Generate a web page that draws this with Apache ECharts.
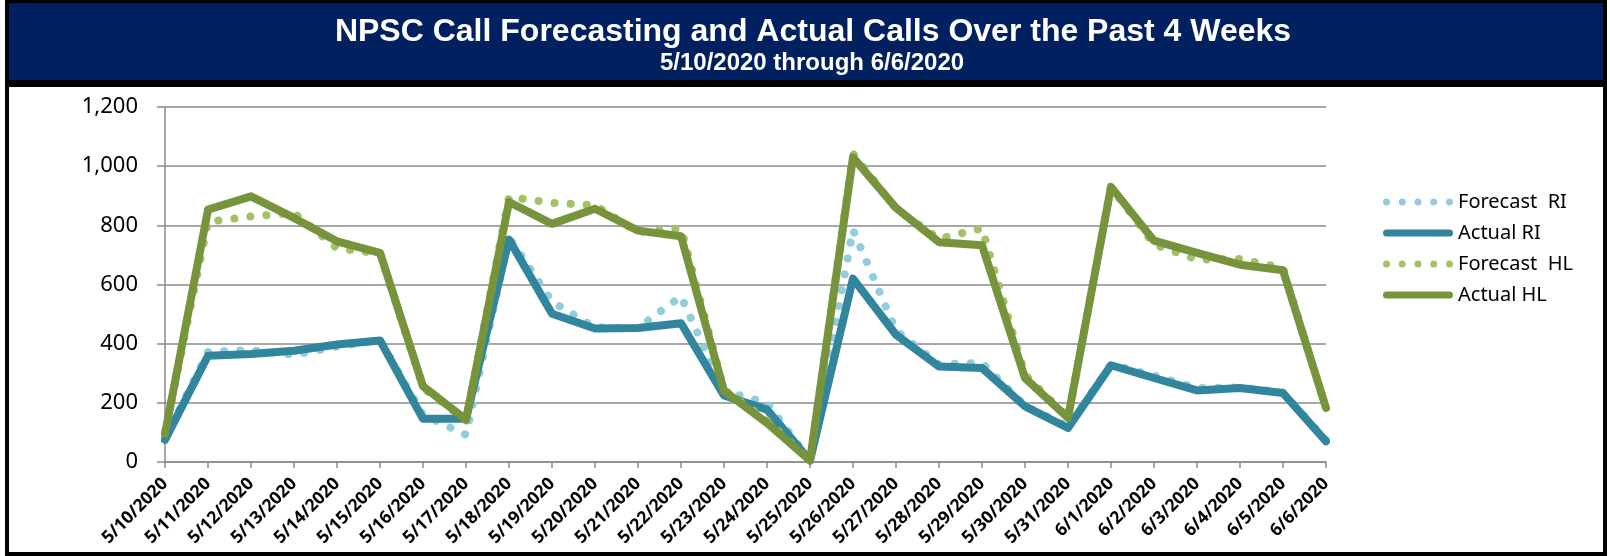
<!DOCTYPE html>
<html>
<head>
<meta charset="utf-8">
<script src="https://cdn.jsdelivr.net/npm/echarts@6/dist/echarts.min.js"></script>
<style>
  html, body { margin: 0; padding: 0; background: #fff; }
  #chart { width: 1610px; height: 556px; }
</style>
</head>
<body>
<div id="chart"></div>
<script>
  // days shown on the category axis
  const dates = [
    '5/10/2020', '5/11/2020', '5/12/2020', '5/13/2020', '5/14/2020', '5/15/2020', '5/16/2020',
    '5/17/2020', '5/18/2020', '5/19/2020', '5/20/2020', '5/21/2020', '5/22/2020', '5/23/2020',
    '5/24/2020', '5/25/2020', '5/26/2020', '5/27/2020', '5/28/2020', '5/29/2020', '5/30/2020',
    '5/31/2020', '6/1/2020', '6/2/2020', '6/3/2020', '6/4/2020', '6/5/2020', '6/6/2020'
  ];
  const forecastRI = [80, 372, 378, 362, 390, 412, 160, 92, 760, 542, 455, 453, 560, 240,
    200, 5, 785, 444, 330, 335, 190, 120, 330, 292, 250, 252, 235, 75];
  const actualRI = [75, 359, 365, 376, 397, 411, 146, 146, 752, 501, 451, 453, 469, 225,
    177, 5, 620, 430, 323, 318, 188, 115, 327, 284, 242, 250, 233, 70];
  const forecastHL = [100, 812, 830, 842, 722, 705, 250, 140, 896, 876, 868, 777, 790, 245,
    140, 5, 1043, 855, 755, 790, 295, 150, 930, 735, 684, 686, 656, 180];
  const actualHL = [95, 853, 898, 825, 746, 707, 256, 143, 879, 805, 856, 782, 763, 241,
    132, 5, 1030, 859, 743, 733, 284, 149, 930, 748, 707, 667, 648, 183];
  const yTicks = { min: 0, max: 1200, step: 200 };

  const chart = echarts.init(document.getElementById('chart'));
  const gridColor = '#8a8a8a';

  // legend glyphs: five dots, or a thick rounded bar (70 x 7 box)
  let dotsIcon = 'path://';
  for (let i = 0; i < 5; i++) {
    const cx = 3.5 + i * 15.75;
    dotsIcon += 'M' + (cx - 3.5) + ',3.5 a3.5,3.5 0 1,0 7,0 a3.5,3.5 0 1,0 -7,0 Z ';
  }
  const barIcon = 'path://M3.5,0 L66.5,0 A3.5,3.5 0 0,1 66.5,7 L3.5,7 A3.5,3.5 0 0,1 3.5,0 Z';

  function dotted(name, data, color) {
    return {
      name: name,
      type: 'line',
      data: data,
      symbol: 'none',
      itemStyle: { color: color },
      lineStyle: { color: color, width: 8, type: [0.1, 16], cap: 'round', join: 'round' }
    };
  }
  function solid(name, data, color) {
    return {
      name: name,
      type: 'line',
      data: data,
      symbol: 'none',
      itemStyle: { color: color },
      lineStyle: { color: color, width: 8, cap: 'round', join: 'round' }
    };
  }

  chart.setOption({
    animation: false,
    backgroundColor: '#fff',
    graphic: [
      { type: 'rect', z: -10, shape: { x: 7, y: 2, width: 1598, height: 552 },
        style: { fill: '#fff', stroke: '#000', lineWidth: 4 } },
      { type: 'rect', z: -9, shape: { x: 9, y: 3, width: 1594, height: 77 },
        style: { fill: '#002060' } },
      { type: 'rect', z: -9, shape: { x: 7, y: 80, width: 1598, height: 7 },
        style: { fill: '#000' } }
    ],
    title: [
      {
        text: 'NPSC Call Forecasting and Actual Calls Over the Past 4 Weeks',
        left: 808, top: 11, textAlign: 'center',
        textStyle: { color: '#fff', fontFamily: 'Liberation Sans', fontWeight: 'bold', fontSize: 32 }
      },
      {
        text: '5/10/2020 through 6/6/2020',
        left: 807, top: 46, textAlign: 'center',
        textStyle: { color: '#fff', fontFamily: 'Liberation Sans', fontWeight: 'bold', fontSize: 24 }
      }
    ],
    legend: {
      orient: 'vertical',
      left: 1378, top: 187,
      itemWidth: 70, itemHeight: 7, itemGap: 11,
      itemStyle: { borderWidth: 0 },
      data: [
        { name: 'Forecast  RI', icon: dotsIcon },
        { name: 'Actual RI', icon: barIcon },
        { name: 'Forecast  HL', icon: dotsIcon },
        { name: 'Actual HL', icon: barIcon }
      ],
      textStyle: { fontFamily: 'Noto Sans', fontSize: 20, color: '#000', lineHeight: 20 }
    },
    grid: { left: 165, right: 284, top: 107, bottom: 94, containLabel: false },
    xAxis: {
      type: 'category',
      data: dates,
      boundaryGap: false,
      axisLine: { lineStyle: { color: gridColor, width: 1.5 } },
      axisTick: { show: true, length: 6, lineStyle: { color: gridColor, width: 1.5 } },
      axisLabel: {
        rotate: 45, interval: 0, margin: 19,
        fontFamily: 'Noto Sans', fontWeight: 'bold', fontSize: 17.5, color: '#000'
      }
    },
    yAxis: {
      type: 'value',
      min: yTicks.min, max: yTicks.max, interval: yTicks.step,
      axisLine: { show: true, lineStyle: { color: gridColor, width: 1.5 } },
      axisTick: { show: true, length: 8, lineStyle: { color: gridColor, width: 1.5 } },
      splitLine: { lineStyle: { color: gridColor, width: 1.5 } },
      axisLabel: {
        margin: 27, fontFamily: 'Noto Sans', fontSize: 22, color: '#000',
        formatter: function (v) { return v.toLocaleString('en-US'); }
      }
    },
    series: [
      dotted('Forecast  RI', forecastRI, '#92cddc'),
      solid('Actual RI', actualRI, '#31859c'),
      dotted('Forecast  HL', forecastHL, '#a3c267'),
      solid('Actual HL', actualHL, '#77933c')
    ]
  });
</script>
</body>
</html>
